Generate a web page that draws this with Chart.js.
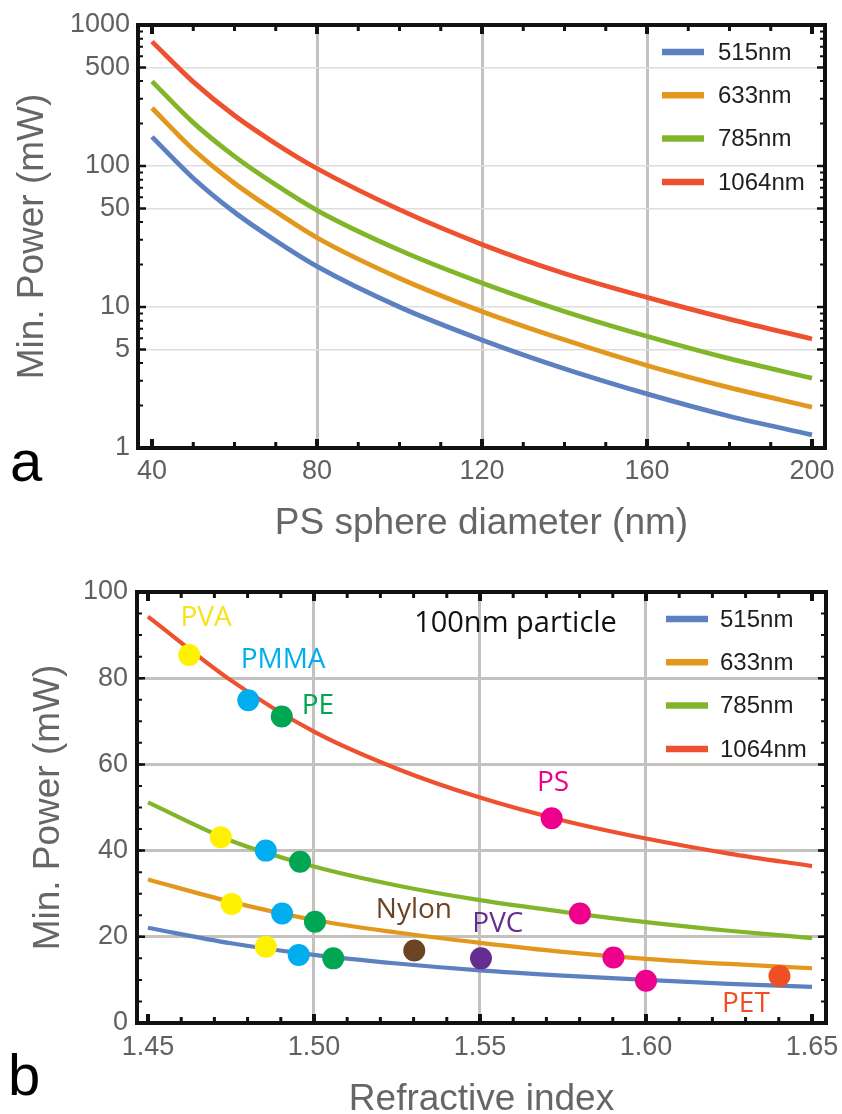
<!DOCTYPE html>
<html>
<head>
<meta charset="utf-8">
<script src="https://cdn.jsdelivr.net/npm/chart.js@4.4.1/dist/chart.umd.min.js"></script>
<style>
  html, body { margin: 0; padding: 0; background: #fff; overflow: hidden; }
  #wrap { position: relative; width: 842px; height: 1114px; }
  canvas { position: absolute; left: 0; }
  #chartA { top: 0; }
  #chartB { top: 560px; }
</style>
</head>
<body>
<div id="wrap">
  <canvas id="chartA" width="842" height="550"></canvas>
  <canvas id="chartB" width="842" height="562"></canvas>
</div>
<script>
// ---- panel a: minimum power vs PS sphere diameter (log scale)
const diameters = [40, 50, 60, 70, 80, 100, 120, 140, 160, 180, 200];
const powerA515 = [161, 82, 47, 29.5, 19.4, 10.0, 5.84, 3.65, 2.42, 1.68, 1.24];
const powerA633 = [258, 131, 75.5, 47.5, 31.0, 16.0, 9.3, 5.85, 3.85, 2.68, 1.95];
const powerA785 = [398, 203, 117, 73.5, 48.5, 25.3, 14.8, 9.3, 6.2, 4.3, 3.13];
const powerA1064 = [762, 395, 228, 144, 96, 49, 27.8, 17.3, 11.7, 8.2, 5.93];

// ---- panel b: minimum power vs refractive index, 100nm particle
const refIndex = [1.45, 1.475, 1.50, 1.525, 1.55, 1.575, 1.60, 1.625, 1.65];
const powerB515 = [22.1, 18.5, 15.8, 13.8, 12.2, 11.0, 10.0, 9.1, 8.4];
const powerB633 = [33.3, 28.1, 23.9, 21.0, 18.6, 16.5, 14.9, 13.7, 12.7];
const powerB785 = [51.2, 42.3, 36.3, 31.9, 28.5, 25.8, 23.4, 21.4, 19.7];
const powerB1064 = [94.3, 79.5, 67.6, 59.0, 52.3, 47.0, 42.8, 39.3, 36.4];

const wavelengths = ['515nm', '633nm', '785nm', '1064nm'];

// materials marked on the curves
const materials = ['PVA', 'PMMA', 'PE', 'Nylon', 'PVC', 'PS', 'PET'];
const materialIndex = [
  [1.4624, 1.4719, 1.4752, 1.4855],
  [1.4802, 1.4855, 1.4904, 1.4954],
  [1.4903, 1.4958, 1.5003, 1.5058],
  [1.5302],
  [1.5503],
  [1.5716, 1.5801, 1.5902, 1.6000],
  [1.6402]
];
const materialPower = [
  [85.4, 43.1, 27.6, 17.7],
  [74.9, 40.0, 25.4, 15.8],
  [71.1, 37.4, 23.5, 15.0],
  [16.8],
  [15.0],
  [47.5, 25.4, 15.2, 9.8],
  [10.9]
];

// axis ticks
const ticksAx = [40, 80, 120, 160, 200];
const ticksAy = [1, 5, 10, 50, 100, 500, 1000];
const ticksBx = [1.45, 1.50, 1.55, 1.60, 1.65];
const ticksBy = [0, 20, 40, 60, 80, 100];

// ---- styles
const lineColors = ['#5d80c1', '#e1981c', '#82b62a', '#ee5130'];
const materialColors = ['#fff200', '#00aeef', '#00a651', '#6b4424', '#662d91', '#ec008c', '#f04e23'];
const materialTextColors = ['#f7e21b', '#00aeef', '#00a651', '#6b4424', '#662d91', '#ec008c', '#f04e23'];
const sans = '"Liberation Sans", Arial, Helvetica, sans-serif';
const noteFont = '"Open Sans", "Noto Sans", sans-serif';
const gridGray = '#c4c1be';

// frame with inward ticks on all four sides (Mathematica style)
const frameTicks = {
  id: 'frameTicks',
  afterDraw(chart, args, o) {
    const {ctx, chartArea: a, scales: {x, y}} = chart;
    ctx.save();
    ctx.strokeStyle = '#111';
    ctx.lineCap = 'butt';
    const xMarks = (vals, len, w) => {
      ctx.lineWidth = w;
      vals.forEach(v => {
        const p = x.getPixelForValue(v);
        ctx.beginPath();
        ctx.moveTo(p, a.bottom); ctx.lineTo(p, a.bottom - len);
        ctx.moveTo(p, a.top); ctx.lineTo(p, a.top + len);
        ctx.stroke();
      });
    };
    const yMarks = (vals, len, w) => {
      ctx.lineWidth = w;
      vals.forEach(v => {
        const p = y.getPixelForValue(v);
        ctx.beginPath();
        ctx.moveTo(a.left, p); ctx.lineTo(a.left + len, p);
        ctx.moveTo(a.right, p); ctx.lineTo(a.right - len, p);
        ctx.stroke();
      });
    };
    xMarks(o.xMinor, 6, 3);
    xMarks(o.xMajor, 9, 4);
    yMarks(o.yMinor, 5, 2);
    yMarks(o.yMajor, 8, 2.5);
    ctx.lineWidth = 4;
    ctx.strokeRect(a.left, a.top, a.right - a.left, a.bottom - a.top);
    ctx.restore();
  }
};

// legend drawn inside the plot, top right
const lineLegend = {
  id: 'lineLegend',
  afterDatasetsDraw(chart, args, o) {
    const {ctx, chartArea: a} = chart;
    const sets = chart.data.datasets.filter(d => d.type === 'line');
    ctx.save();
    ctx.font = '24px ' + sans;
    ctx.textBaseline = 'middle';
    ctx.textAlign = 'left';
    sets.forEach((d, i) => {
      const yy = a.top + 27 + i * 43.3;
      const x0 = a.right - o.inset;
      ctx.strokeStyle = d.borderColor;
      ctx.lineWidth = 6.5;
      ctx.beginPath();
      ctx.moveTo(x0, yy); ctx.lineTo(x0 + 42, yy);
      ctx.stroke();
      ctx.fillStyle = '#1e1e1e';
      ctx.fillText(d.label, x0 + o.textGap, yy + 1);
    });
    ctx.restore();
  }
};

// panel letter and text notes
const notes = {
  id: 'notes',
  afterDraw(chart, args, o) {
    const {ctx, scales: {x, y}} = chart;
    ctx.save();
    ctx.fillStyle = '#000';
    ctx.font = '58px ' + sans;
    ctx.textBaseline = 'alphabetic';
    ctx.fillText(o.letter, o.letterX, o.letterY);
    ctx.textAlign = 'center';
    ctx.textBaseline = 'middle';
    (o.items || []).forEach(n => {
      ctx.font = (n.size || 28) + 'px ' + noteFont;
      ctx.fillStyle = n.color;
      ctx.fillText(n.text, x.getPixelForValue(n.x), y.getPixelForValue(n.y));
    });
    ctx.restore();
  }
};

const range = (a, b, step) => {
  const out = [];
  for (let v = a; v <= b + 1e-9; v += step) out.push(+v.toFixed(4));
  return out;
};
const noPadding = s => { s.paddingLeft = 0; s.paddingRight = 0; s.paddingTop = 0; s.paddingBottom = 0; };
const near = (v, list) => list.some(t => Math.abs(t - v) < 1e-6);

function lineSets(xs, series, width) {
  return wavelengths.map((w, i) => ({
    type: 'line',
    label: w,
    order: 2,
    data: xs.map((v, k) => ({x: v, y: series[i][k]})),
    borderColor: lineColors[i],
    borderWidth: width,
    pointRadius: 0,
    cubicInterpolationMode: 'monotone',
    fill: false
  }));
}

function tickFont() {
  return {family: sans, size: 27};
}
function titleFont() {
  return {family: sans, size: 37};
}

// ---- chart a
const seriesA = [powerA515, powerA633, powerA785, powerA1064];
new Chart(document.getElementById('chartA'), {
  data: {datasets: lineSets(diameters, seriesA, 4.8)},
  options: {
    responsive: false,
    animation: false,
    events: [],
    layout: {padding: {top: 25, right: 17, left: 0, bottom: 0}},
    plugins: {
      legend: {display: false},
      tooltip: {enabled: false},
      lineLegend: {inset: 163, textGap: 56},
      frameTicks: {
        xMajor: ticksAx,
        xMinor: range(40, 200, 10),
        yMajor: ticksAy,
        yMinor: [2, 3, 4, 6, 7, 8, 9, 20, 30, 40, 60, 70, 80, 90, 200, 300, 400, 600, 700, 800, 900]
      },
      notes: {letter: 'a', letterX: 10, letterY: 481}
    },
    scales: {
      x: {
        type: 'linear', min: 36.606, max: 203.15, bounds: 'data',
        afterBuildTicks: s => { s.ticks = ticksAx.map(v => ({value: v})); },
        afterFit: s => { s.height = 102; noPadding(s); },
        border: {display: false},
        grid: {
          drawTicks: false,
          color: c => (c.tick && near(c.tick.value, [80, 120, 160])) ? gridGray : 'rgba(0,0,0,0)',
          lineWidth: 3
        },
        ticks: {autoSkip: false, maxRotation: 0, padding: 7, color: '#606060', font: tickFont(), callback: v => String(v)},
        title: {display: true, text: 'PS sphere diameter (nm)', color: '#666', font: titleFont(), padding: {top: 0, bottom: 4}}
      },
      y: {
        type: 'logarithmic', min: 1, max: 1000,
        afterBuildTicks: s => { s.ticks = ticksAy.map(v => ({value: v})); },
        afterFit: s => { s.width = 138; noPadding(s); },
        border: {display: false},
        grid: {
          drawTicks: false,
          color: c => (c.tick && near(c.tick.value, [5, 10, 50, 100, 500])) ? '#dedede' : 'rgba(0,0,0,0)',
          lineWidth: 1.5
        },
        ticks: {autoSkip: false, padding: 8, color: '#606060', font: tickFont(), callback: v => String(v)},
        title: {display: true, text: 'Min. Power (mW)', color: '#666', font: titleFont(), padding: {top: 11, bottom: 0}}
      }
    }
  },
  plugins: [lineLegend, frameTicks, notes]
});

// ---- chart b
const seriesB = [powerB515, powerB633, powerB785, powerB1064];
const dotSets = materials.map((m, i) => ({
  type: 'scatter',
  label: m,
  order: 1,
  data: materialIndex[i].map((v, k) => ({x: v, y: materialPower[i][k]})),
  backgroundColor: materialColors[i],
  borderWidth: 0,
  pointRadius: 11
}));
const noteItems = [
  {text: 'PVA', x: 1.4675, y: 94.0, color: materialTextColors[0]},
  {text: 'PMMA', x: 1.4907, y: 84.2, color: materialTextColors[1]},
  {text: 'PE', x: 1.5012, y: 73.5, color: materialTextColors[2]},
  {text: 'Nylon', x: 1.5301, y: 26.2, color: materialTextColors[3]},
  {text: 'PVC', x: 1.5554, y: 23.0, color: materialTextColors[4]},
  {text: 'PS', x: 1.5720, y: 55.7, color: materialTextColors[5]},
  {text: 'PET', x: 1.6301, y: 4.4, color: materialTextColors[6]},
  {text: '100nm particle', x: 1.5607, y: 92.6, color: '#111', size: 29}
];

new Chart(document.getElementById('chartB'), {
  data: {datasets: lineSets(refIndex, seriesB, 4.2).concat(dotSets)},
  options: {
    responsive: false,
    animation: false,
    events: [],
    layout: {padding: {top: 32, right: 16, left: 0, bottom: 0}},
    plugins: {
      legend: {display: false},
      tooltip: {enabled: false},
      lineLegend: {inset: 160, textGap: 54},
      frameTicks: {
        xMajor: ticksBx,
        xMinor: range(1.45, 1.65, 0.01),
        yMajor: ticksBy,
        yMinor: range(0, 100, 5)
      },
      notes: {letter: 'b', letterX: 8, letterY: 535, items: noteItems}
    },
    scales: {
      x: {
        type: 'linear', min: 1.44669, max: 1.65422, bounds: 'data',
        afterBuildTicks: s => { s.ticks = ticksBx.map(v => ({value: v})); },
        afterFit: s => { s.height = 99; noPadding(s); },
        border: {display: false},
        grid: {
          drawTicks: false,
          color: c => (c.tick && near(c.tick.value, [1.50, 1.55, 1.60])) ? gridGray : 'rgba(0,0,0,0)',
          lineWidth: 3
        },
        ticks: {autoSkip: false, maxRotation: 0, padding: 8, color: '#606060', font: tickFont(), callback: v => v.toFixed(2)},
        title: {display: true, text: 'Refractive index', color: '#666', font: titleFont(), padding: {top: 0, bottom: 0}}
      },
      y: {
        type: 'linear', min: 0, max: 100, bounds: 'data',
        afterBuildTicks: s => { s.ticks = ticksBy.map(v => ({value: v})); },
        afterFit: s => { s.width = 137; noPadding(s); },
        border: {display: false},
        grid: {
          drawTicks: false,
          color: c => (c.tick && near(c.tick.value, [20, 40, 60, 80])) ? gridGray : 'rgba(0,0,0,0)',
          lineWidth: 3
        },
        ticks: {autoSkip: false, padding: 9, color: '#606060', font: tickFont(), callback: v => String(v)},
        title: {display: true, text: 'Min. Power (mW)', color: '#666', font: titleFont(), padding: {top: 27, bottom: 0}}
      }
    }
  },
  plugins: [lineLegend, frameTicks, notes]
});
</script>
</body>
</html>
